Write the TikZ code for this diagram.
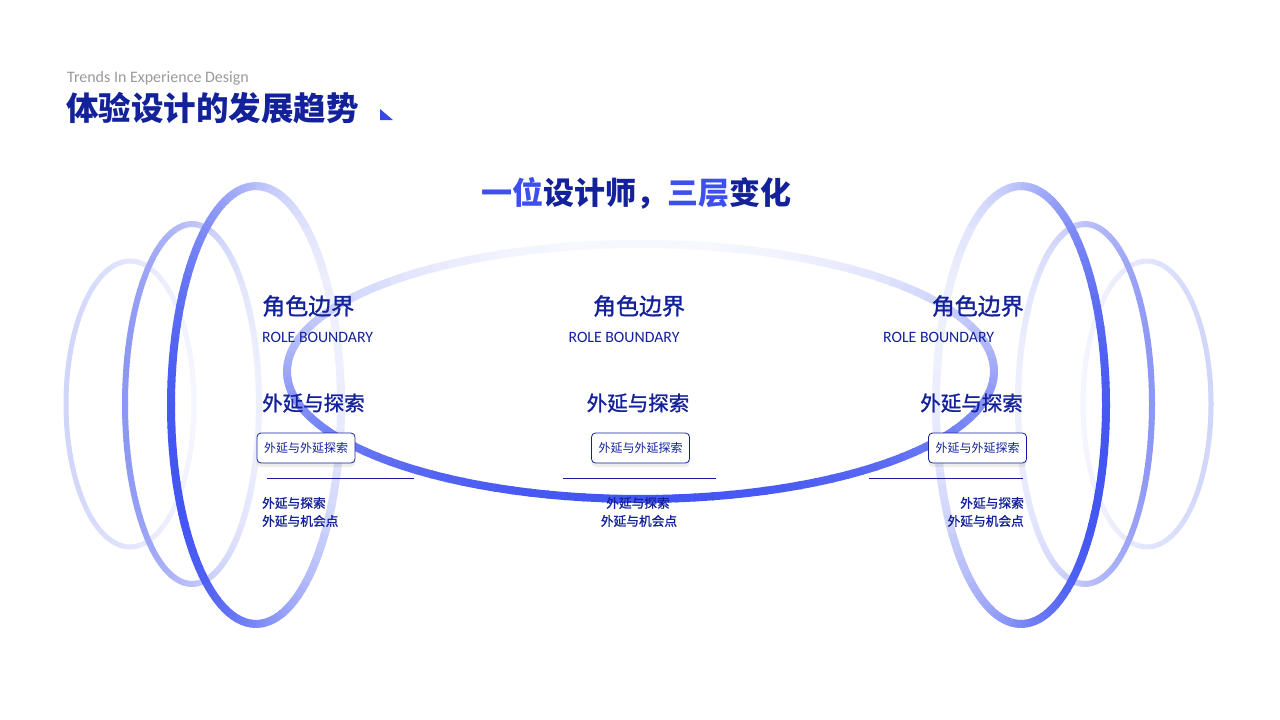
\documentclass[tikz,border=0pt]{standalone}
\usepackage{fontspec}
\setmainfont{Carlito}
\newfontfamily\cjk{Noto Sans CJK SC}
\newfontfamily\cjkm[FakeBold=1.2]{Noto Sans CJK SC}
\usetikzlibrary{shadows}
\definecolor{navy}{HTML}{13229A}
\definecolor{bright}{HTML}{3D50EE}
\definecolor{graytxt}{HTML}{9A9A9A}
\definecolor{ringA}{HTML}{4254F2}
\definecolor{ringAf}{HTML}{EEF0FD}
\definecolor{ringB}{HTML}{8C96F4}
\definecolor{ringBf}{HTML}{EDEFFD}
\definecolor{ringC}{HTML}{D0D5FA}
\definecolor{ringCf}{HTML}{F4F5FE}
\definecolor{ringMf}{HTML}{F7F8FE}
% cx, cy, rx, ry, width, strong, faint, strongest angle
\newcommand\gradring[8]{%
  \foreach \a in {0,3,...,357}{%
    \pgfmathtruncatemacro\p{50+50*cos(\a+1.5-#8)}%
    \draw[line width=#5, draw=#6!\p!#7] (#1,#2) ++(\a:#3 and #4)
      arc[start angle=\a, end angle=\a+3.4, x radius=#3, y radius=#4];
  }}
\tikzset{
  head/.style={font=\cjkm\fontsize{23}{23}\selectfont, text=navy, inner sep=0pt},
  eng/.style={font=\fontsize{15.8}{15.8}\selectfont, text=navy, inner sep=0pt},
  sub/.style={font=\cjkm\fontsize{20.5}{20.5}\selectfont, text=navy, inner sep=0pt},
  tagbox/.style={draw=navy, line width=0.8pt, rounded corners=4pt, fill=white,
    minimum width=98pt, minimum height=30pt, inner sep=0pt,
    font=\cjk\fontsize{12}{12}\selectfont, text=navy,
    drop shadow={shadow xshift=0pt, shadow yshift=-4pt, opacity=0.07, fill=black}},
  small/.style={font=\cjkm\fontsize{12.7}{12.7}\selectfont, text=navy, inner sep=0pt},
  rule/.style={draw=navy, line width=0.9pt}
}
\begin{document}
\begin{tikzpicture}[x=1pt,y=-1pt]
\fill[white] (0,0) rectangle (1280,720);
\useasboundingbox (0,0) rectangle (1280,720);
% left rings
\gradring{130}{404}{64}{143}{5pt}{ringC}{ringCf}{180}
\gradring{192}{404}{67}{180}{6pt}{ringB}{ringBf}{180}
\gradring{256}{405}{85}{219}{8pt}{ringA}{ringAf}{160}
% right rings
\gradring{1147}{404}{64}{143}{5pt}{ringC}{ringCf}{0}
\gradring{1085}{404}{67}{180}{6pt}{ringB}{ringBf}{0}
\gradring{1021}{405}{85}{219}{8pt}{ringA}{ringAf}{20}
% central ellipse
\gradring{640.5}{371.5}{353.5}{127.5}{8pt}{ringA}{ringMf}{90}

% header
\node[anchor=west, inner sep=0pt, text=graytxt, font=\fontsize{16}{16}\selectfont] (trend) at (67,78) {Trends In Experience Design};
\node[anchor=west, inner sep=0pt, text=navy, font=\cjk\bfseries\fontsize{32.5}{32.5}\selectfont] (title) at (66,108) {体验设计的发展趋势};
\fill[bright!85!navy] (380,109) -- (380,120) -- (393,120) -- cycle;
\node[inner sep=0pt, text=navy, font=\cjk\bfseries\fontsize{31}{31}\selectfont] (subt) at (636,193) {{\color{bright}一位}设计师，{\color{bright}三层}变化};

% left column
\node[head, anchor=west] (h1) at (262,306) {角色边界};
\node[eng, anchor=west] (e1) at (262,337) {ROLE BOUNDARY};
\node[sub, anchor=west] (s1) at (262,403) {外延与探索};
\node[tagbox] (b1) at (306,448) {外延与外延探索};
\draw[rule] (267,478) -- (414,478);
\node[small, anchor=west] (t1a) at (262,503) {外延与探索};
\node[small, anchor=west] (t1b) at (262,521) {外延与机会点};

% middle column
\node[head] (h2) at (639,306) {角色边界};
\node[eng] (e2) at (624,337) {ROLE BOUNDARY};
\node[sub] (s2) at (638,403) {外延与探索};
\node[tagbox] (b2) at (640.5,448) {外延与外延探索};
\draw[rule] (563,478) -- (716,478);
\node[small] (t2a) at (638,503) {外延与探索};
\node[small] (t2b) at (639,521) {外延与机会点};

% right column
\node[head, anchor=east] (h3) at (1024,306) {角色边界};
\node[eng, anchor=west] (e3) at (883,337) {ROLE BOUNDARY};
\node[sub, anchor=east] (s3) at (1023,403) {外延与探索};
\node[tagbox] (b3) at (977.5,448) {外延与外延探索};
\draw[rule] (869,478) -- (1023,478);
\node[small, anchor=east] (t3a) at (1024,503) {外延与探索};
\node[small, anchor=east] (t3b) at (1024,521) {外延与机会点};
\end{tikzpicture}
\end{document}
